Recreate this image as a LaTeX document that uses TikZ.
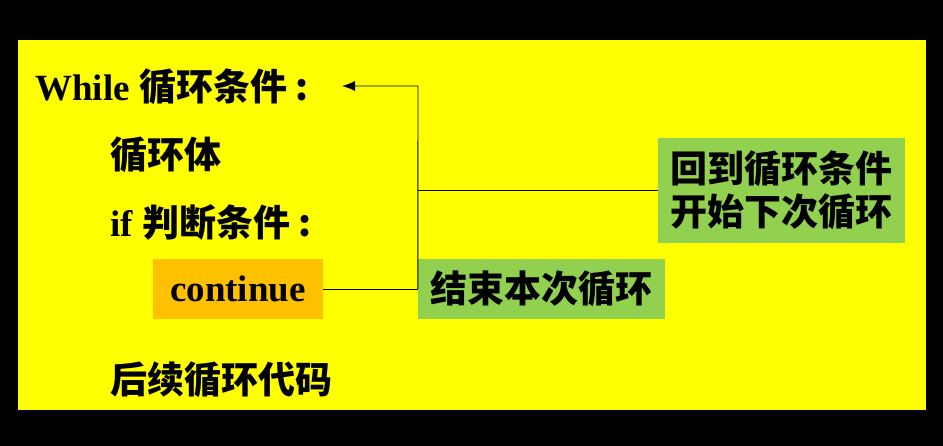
\documentclass[tikz,border=0pt]{standalone}
\usepackage{fontspec}
\setmainfont{Liberation Serif}
\newfontfamily\cjk{Noto Sans CJK SC}
\usetikzlibrary{arrows.meta}
\definecolor{bgyellow}{HTML}{FFFF00}
\definecolor{contorange}{HTML}{FFC000}
\definecolor{notegreen}{HTML}{92D050}
\tikzset{
  codeline/.style={anchor=west, inner sep=0pt, font=\fontsize{37}{43}\selectfont\bfseries},
  notebox/.style={fill=notegreen, inner sep=0pt, align=center,
    font=\cjk\fontsize{37}{43}\selectfont\bfseries},
  link/.style={line width=0.9pt},
}
\begin{document}
\begin{tikzpicture}[x=1pt, y=-1pt]
  % 背景
  \fill[black] (0,0) rectangle (943,446);
  \fill[bgyellow] (18,40) rectangle (926,410);
  % 代码行
  \node[codeline] (while) at (35,87) {While {\cjk 循环条件 :}};
  \node[codeline] (body) at (110,155) {\cjk 循环体};
  \node[codeline] (cond) at (110,222) {if {\cjk 判断条件 :}};
  \node[codeline] (after) at (110,380) {\cjk 后续循环代码};
  % continue 方框
  \node[fill=contorange, minimum width=170pt, minimum height=60pt, inner sep=0pt,
    font=\fontsize{37}{43}\selectfont\bfseries] (cont) at (238,289) {continue};
  % 说明方框
  \node[notebox, minimum width=247pt, minimum height=60pt] (stop) at (541.5,289) {结束本次循环};
  \node[notebox, minimum width=247pt, minimum height=105pt] (back) at (781.5,190.5)
    {回到循环条件\\开始下次循环};
  % 连线
  \coordinate (turn) at (418,86);
  \coordinate (tip) at (342,86);
  \draw[link] (cont.east) -- (stop.west);
  \draw[link, -{Latex[length=13pt,width=10pt]}] (stop.west) -- (turn) -- (tip);
  \draw[link] (back.west) -- (back.west -| turn);
\end{tikzpicture}
\end{document}
